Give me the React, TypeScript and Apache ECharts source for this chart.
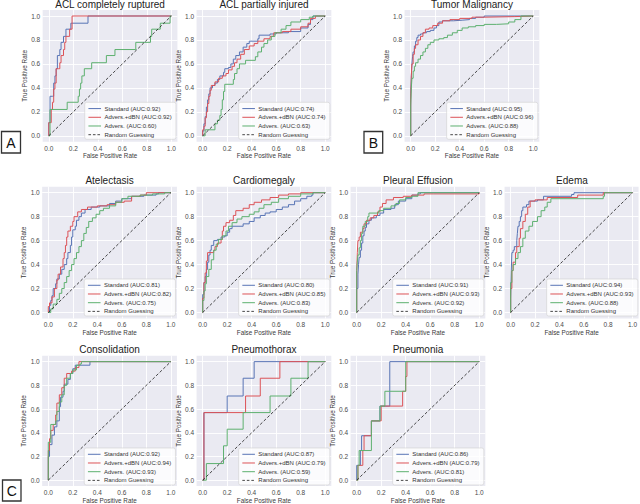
import React, { useEffect, useRef } from "react";
import * as echarts from "echarts";

const FONT = "'Liberation Sans', Arial, Helvetica, sans-serif";
const TICKS = [0, 0.2, 0.4, 0.6, 0.8, 1.0];

const titles = [
  "ACL completely ruptured",
  "ACL partially injured",
  "Tumor Malignancy",
  "Atelectasis",
  "Cardiomegaly",
  "Pleural Effusion",
  "Edema",
  "Consolidation",
  "Pneumothorax",
  "Pneumonia",
];

// AUC values: [Standard, Advers.+dBN, Advers.]
const aucs = [
  ["0.92", "0.92", "0.60"],
  ["0.74", "0.74", "0.63"],
  ["0.95", "0.96", "0.88"],
  ["0.81", "0.82", "0.75"],
  ["0.80", "0.85", "0.83"],
  ["0.91", "0.93", "0.92"],
  ["0.94", "0.93", "0.88"],
  ["0.92", "0.94", "0.93"],
  ["0.87", "0.79", "0.59"],
  ["0.86", "0.79", "0.81"],
];

// ROC step corners [fpr, tpr]
const aclCompStd = [[0,0],[0,0.11],[0.01,0.33],[0.03,0.33],[0.04,0.44],[0.05,0.5],[0.06,0.56],[0.07,0.67],[0.09,0.72],[0.1,0.78],[0.12,0.83],[0.14,0.89],[0.18,0.94],[0.32,1.0],[1,1]];
const aclCompDbn = [[0,0],[0,0.11],[0.02,0.22],[0.03,0.28],[0.04,0.39],[0.05,0.44],[0.06,0.56],[0.08,0.56],[0.09,0.61],[0.1,0.67],[0.12,0.72],[0.13,0.78],[0.14,0.83],[0.17,0.89],[0.19,1.0],[1,1]];
const aclCompAdv = [[0,0],[0.01,0.22],[0.15,0.28],[0.24,0.33],[0.25,0.39],[0.26,0.44],[0.27,0.5],[0.29,0.56],[0.35,0.61],[0.47,0.67],[0.54,0.72],[0.71,0.78],[0.83,0.83],[0.84,0.89],[0.91,0.94],[0.99,1.0],[1,1]];

const aclPartStd = [[0,0],[0,0.04],[0.01,0.1],[0.02,0.16],[0.03,0.24],[0.04,0.3],[0.05,0.35],[0.06,0.4],[0.08,0.42],[0.1,0.44],[0.12,0.47],[0.14,0.5],[0.17,0.53],[0.18,0.56],[0.21,0.57],[0.23,0.6],[0.25,0.64],[0.27,0.67],[0.3,0.7],[0.33,0.74],[0.36,0.77],[0.38,0.79],[0.45,0.81],[0.46,0.84],[0.55,0.85],[0.6,0.86],[0.7,0.87],[0.8,0.9],[0.86,0.93],[0.88,0.97],[0.9,1.0],[1,1]];
const aclPartDbn = [[0,0],[0,0.05],[0.01,0.08],[0.02,0.15],[0.03,0.2],[0.04,0.27],[0.05,0.33],[0.06,0.38],[0.07,0.42],[0.1,0.45],[0.13,0.48],[0.16,0.5],[0.19,0.52],[0.21,0.55],[0.24,0.58],[0.26,0.61],[0.28,0.64],[0.31,0.68],[0.34,0.72],[0.38,0.75],[0.42,0.77],[0.45,0.79],[0.5,0.81],[0.55,0.83],[0.58,0.86],[0.65,0.87],[0.72,0.89],[0.8,0.91],[0.86,0.94],[0.88,0.98],[0.92,1.0],[1,1]];
const aclPartAdv = [[0,0],[0.02,0.05],[0.1,0.1],[0.12,0.13],[0.14,0.17],[0.15,0.22],[0.16,0.3],[0.17,0.37],[0.18,0.43],[0.25,0.47],[0.26,0.52],[0.28,0.56],[0.3,0.6],[0.35,0.63],[0.43,0.66],[0.45,0.7],[0.48,0.74],[0.5,0.77],[0.53,0.8],[0.56,0.83],[0.59,0.86],[0.64,0.89],[0.68,0.92],[0.72,0.95],[0.8,0.97],[0.87,0.99],[0.9,1.0],[1,1]];

const tumorStd = [[0,0],[0,0.35],[0.005,0.5],[0.01,0.6],[0.015,0.66],[0.02,0.7],[0.03,0.75],[0.04,0.79],[0.05,0.82],[0.06,0.84],[0.08,0.85],[0.1,0.86],[0.13,0.87],[0.16,0.88],[0.19,0.9],[0.21,0.92],[0.23,0.95],[0.26,0.96],[0.35,0.965],[0.42,0.97],[0.48,0.98],[0.53,0.99],[0.6,1.0],[1,1]];
const tumorDbn = [[0,0],[0,0.3],[0.005,0.5],[0.01,0.6],[0.02,0.68],[0.03,0.73],[0.04,0.76],[0.06,0.8],[0.08,0.83],[0.1,0.86],[0.12,0.89],[0.15,0.9],[0.18,0.92],[0.22,0.94],[0.26,0.96],[0.32,0.97],[0.4,0.98],[0.5,0.99],[0.6,0.995],[0.85,1.0],[1,1]];
const tumorAdv = [[0,0],[0,0.25],[0.005,0.4],[0.01,0.48],[0.02,0.54],[0.03,0.58],[0.04,0.61],[0.06,0.64],[0.08,0.67],[0.1,0.7],[0.12,0.73],[0.14,0.76],[0.16,0.78],[0.19,0.8],[0.23,0.81],[0.27,0.82],[0.3,0.84],[0.34,0.86],[0.38,0.88],[0.42,0.9],[0.47,0.91],[0.53,0.92],[0.6,0.93],[0.7,0.935],[0.8,0.95],[0.85,0.97],[0.9,1.0],[1,1]];

const atelStd = [[0,0],[0.01,0.06],[0.02,0.1],[0.03,0.14],[0.04,0.2],[0.06,0.24],[0.07,0.28],[0.09,0.32],[0.11,0.36],[0.13,0.4],[0.15,0.45],[0.16,0.5],[0.18,0.56],[0.19,0.63],[0.2,0.69],[0.22,0.72],[0.23,0.77],[0.25,0.8],[0.27,0.83],[0.3,0.86],[0.35,0.88],[0.42,0.89],[0.5,0.91],[0.55,0.93],[0.6,0.95],[0.68,0.97],[0.78,0.98],[0.88,0.99],[0.9,1.0],[1,1]];
const atelDbn = [[0,0],[0,0.05],[0.01,0.08],[0.03,0.13],[0.05,0.2],[0.07,0.27],[0.08,0.32],[0.1,0.38],[0.12,0.45],[0.13,0.5],[0.14,0.56],[0.15,0.63],[0.16,0.68],[0.18,0.72],[0.2,0.76],[0.21,0.8],[0.24,0.84],[0.27,0.86],[0.32,0.88],[0.4,0.89],[0.48,0.9],[0.55,0.92],[0.62,0.93],[0.68,0.97],[0.75,0.98],[0.8,1.0],[1,1]];
const atelAdv = [[0,0],[0.02,0.03],[0.04,0.07],[0.07,0.11],[0.09,0.16],[0.11,0.2],[0.13,0.25],[0.15,0.3],[0.17,0.35],[0.19,0.4],[0.21,0.45],[0.23,0.5],[0.25,0.55],[0.27,0.6],[0.29,0.66],[0.31,0.71],[0.33,0.76],[0.36,0.79],[0.39,0.82],[0.42,0.85],[0.45,0.87],[0.5,0.89],[0.55,0.92],[0.6,0.95],[0.65,0.97],[0.75,0.98],[0.85,0.99],[0.95,1.0],[1,1]];

const cardStd = [[0,0],[0,0.15],[0.01,0.25],[0.02,0.3],[0.03,0.36],[0.04,0.42],[0.05,0.48],[0.06,0.52],[0.07,0.56],[0.09,0.6],[0.12,0.61],[0.15,0.63],[0.18,0.64],[0.2,0.67],[0.22,0.7],[0.24,0.72],[0.33,0.74],[0.38,0.76],[0.42,0.79],[0.47,0.81],[0.51,0.83],[0.55,0.84],[0.6,0.86],[0.65,0.88],[0.7,0.9],[0.75,0.93],[0.8,0.95],[0.85,0.97],[0.89,0.98],[0.9,1.0],[1,1]];
const cardDbn = [[0,0],[0,0.12],[0.01,0.25],[0.02,0.33],[0.03,0.43],[0.04,0.5],[0.09,0.52],[0.1,0.55],[0.12,0.58],[0.15,0.61],[0.16,0.68],[0.17,0.72],[0.19,0.75],[0.22,0.77],[0.25,0.81],[0.27,0.85],[0.33,0.87],[0.38,0.9],[0.42,0.92],[0.48,0.94],[0.55,0.96],[0.62,0.98],[0.7,0.99],[0.8,1.0],[1,1]];
const cardAdv = [[0,0],[0,0.1],[0.01,0.18],[0.02,0.24],[0.03,0.3],[0.05,0.36],[0.07,0.44],[0.09,0.52],[0.11,0.57],[0.13,0.61],[0.16,0.64],[0.19,0.68],[0.21,0.72],[0.24,0.75],[0.28,0.78],[0.32,0.8],[0.38,0.82],[0.42,0.84],[0.46,0.87],[0.5,0.9],[0.56,0.92],[0.62,0.95],[0.7,0.97],[0.8,0.99],[0.9,1.0],[1,1]];

const pleuStd = [[0,0],[0,0.2],[0.01,0.32],[0.015,0.4],[0.02,0.46],[0.03,0.52],[0.04,0.58],[0.05,0.64],[0.06,0.68],[0.07,0.71],[0.08,0.74],[0.1,0.77],[0.12,0.79],[0.16,0.81],[0.19,0.83],[0.22,0.86],[0.28,0.87],[0.31,0.9],[0.34,0.93],[0.4,0.95],[0.45,0.98],[0.5,0.99],[0.52,1.0],[1,1]];
const pleuDbn = [[0,0],[0,0.35],[0.005,0.5],[0.01,0.6],[0.02,0.63],[0.03,0.67],[0.05,0.7],[0.06,0.74],[0.08,0.77],[0.11,0.79],[0.14,0.81],[0.17,0.84],[0.19,0.88],[0.21,0.91],[0.24,0.94],[0.3,0.96],[0.38,0.97],[0.45,0.98],[0.55,0.99],[0.63,0.99],[1,1]];
const pleuAdv = [[0,0],[0,0.35],[0.005,0.42],[0.01,0.48],[0.02,0.54],[0.03,0.6],[0.04,0.66],[0.05,0.72],[0.07,0.76],[0.09,0.8],[0.1,0.83],[0.18,0.85],[0.22,0.87],[0.28,0.89],[0.32,0.91],[0.35,0.94],[0.4,0.96],[0.45,0.97],[0.5,1.0],[1,1]];

const edemaStd = [[0,0],[0,0.12],[0.005,0.35],[0.01,0.5],[0.02,0.52],[0.03,0.55],[0.05,0.6],[0.055,0.66],[0.06,0.72],[0.07,0.76],[0.08,0.8],[0.09,0.85],[0.1,0.88],[0.13,0.9],[0.15,0.93],[0.22,0.94],[0.27,0.97],[0.5,0.985],[0.52,1.0],[1,1]];
const edemaDbn = [[0,0],[0,0.2],[0.01,0.35],[0.02,0.42],[0.04,0.5],[0.05,0.55],[0.07,0.62],[0.08,0.7],[0.1,0.76],[0.12,0.82],[0.14,0.88],[0.16,0.93],[0.2,0.94],[0.3,0.96],[0.55,0.98],[0.76,1.0],[1,1]];
const edemaAdv = [[0,0],[0,0.25],[0.01,0.35],[0.02,0.4],[0.04,0.45],[0.06,0.5],[0.08,0.55],[0.1,0.62],[0.12,0.68],[0.15,0.72],[0.18,0.76],[0.22,0.8],[0.25,0.85],[0.28,0.88],[0.3,0.92],[0.33,0.95],[0.76,0.97],[0.77,1.0],[1,1]];

const consStd = [[0,0],[0,0.2],[0.01,0.3],[0.03,0.38],[0.05,0.45],[0.07,0.5],[0.09,0.62],[0.1,0.7],[0.12,0.75],[0.13,0.81],[0.16,0.85],[0.18,0.9],[0.2,0.94],[0.22,0.97],[0.34,1.0],[1,1]];
const consDbn = [[0,0],[0,0.25],[0.01,0.35],[0.02,0.42],[0.04,0.47],[0.06,0.55],[0.07,0.65],[0.09,0.72],[0.11,0.78],[0.13,0.86],[0.15,0.9],[0.19,0.92],[0.22,0.95],[0.25,1.0],[1,1]];
const consAdv = [[0,0],[0,0.32],[0.02,0.47],[0.06,0.5],[0.07,0.58],[0.09,0.66],[0.11,0.72],[0.13,0.8],[0.15,0.86],[0.18,0.9],[0.2,0.93],[0.23,0.97],[0.26,0.98],[0.27,1.0],[1,1]];

const ptxStd = [[0,0],[0.01,0.57],[0.2,0.71],[0.33,0.86],[0.42,1.0],[1,1]];
const ptxDbn = [[0,0],[0.01,0.57],[0.35,0.71],[0.47,0.86],[0.63,1.0],[1,1]];
const ptxAdv = [[0,0],[0.03,0.14],[0.17,0.29],[0.2,0.43],[0.33,0.57],[0.55,0.71],[0.72,0.86],[0.86,1.0],[1,1]];

const pnaStd = [[0,0],[0,0.125],[0.03,0.25],[0.04,0.375],[0.12,0.5],[0.19,0.625],[0.27,0.75],[0.27,1.0],[1,1]];
const pnaDbn = [[0,0],[0.01,0.125],[0.05,0.25],[0.06,0.375],[0.12,0.5],[0.2,0.625],[0.375,0.75],[0.4,0.875],[0.41,1.0],[1,1]];
const pnaAdv = [[0,0],[0.01,0.125],[0.02,0.25],[0.12,0.5],[0.19,0.625],[0.23,0.75],[0.4,1.0],[1,1]];

const randomLine = [[0,0],[1,1]];

const curves = [
  [aclCompStd, aclCompDbn, aclCompAdv],
  [aclPartStd, aclPartDbn, aclPartAdv],
  [tumorStd, tumorDbn, tumorAdv],
  [atelStd, atelDbn, atelAdv],
  [cardStd, cardDbn, cardAdv],
  [pleuStd, pleuDbn, pleuAdv],
  [edemaStd, edemaDbn, edemaAdv],
  [consStd, consDbn, consAdv],
  [ptxStd, ptxDbn, ptxAdv],
  [pnaStd, pnaDbn, pnaAdv],
];

const panelLabels = ["A", "B", "C"];

// layout: pixel of data x=0 and data y=1
const UX = 122.5;
const UY = 119.8;
const layout = [
  { x0: 48.8, y1: 16 },
  { x0: 202.7, y1: 16 },
  { x0: 410.7, y1: 16 },
  { x0: 48.3, y1: 192.7 },
  { x0: 202.7, y1: 192.7 },
  { x0: 356.7, y1: 192.7 },
  { x0: 510.7, y1: 192.7 },
  { x0: 48.3, y1: 361.7 },
  { x0: 202.7, y1: 361.7 },
  { x0: 356.7, y1: 361.7 },
];
const labelBoxes = [
  { x: 1.5, y: 131.5, w: 19, h: 21.5 },
  { x: 364, y: 131.5, w: 18.7, h: 21.5 },
  { x: 2.5, y: 480, w: 18.5, h: 21 },
];

const COLORS = ["#5874B5", "#DC5257", "#5DB06F"];
const DASHED = "#1a1a1a";

export default function App() {
  const ref = useRef<HTMLDivElement>(null);
  useEffect(() => {
    if (!ref.current) return;
    const chart = echarts.init(ref.current, undefined, { renderer: "svg" });
    const measure = document.createElement("canvas").getContext("2d");
    const legendFont = `6px ${FONT}`;
    if (measure) measure.font = legendFont;
    const grids: any[] = [];
    const xAxes: any[] = [];
    const yAxes: any[] = [];
    const series: any[] = [];
    const graphics: any[] = [];
    const axisLabel = {
      customValues: TICKS,
      formatter: (v: number) => v.toFixed(1),
      fontSize: 6.5,
      fontFamily: FONT,
      color: "#4a4a4a",
    };
    const nameStyle = { fontSize: 6.3, fontFamily: FONT, color: "#3a3a3a" };
    layout.forEach((l, i) => {
      const left = l.x0 - 0.05 * UX;
      const top = l.y1 - 0.05 * UY;
      const width = 1.1 * UX;
      const height = 1.1 * UY;
      grids.push({ left, top, width, height, show: true, backgroundColor: "#EAEAF2", borderWidth: 0 });
      xAxes.push({
        gridIndex: i, type: "value", min: -0.05, max: 1.05,
        axisLine: { show: false }, axisTick: { show: false, customValues: TICKS },
        axisLabel: { ...axisLabel, margin: 3 },
        splitLine: { show: true, lineStyle: { color: "#ffffff", width: 0.9 } },
        name: "False Positive Rate", nameLocation: "middle", nameGap: 10.5, nameTextStyle: nameStyle,
      });
      yAxes.push({
        gridIndex: i, type: "value", min: -0.05, max: 1.05,
        axisLine: { show: false }, axisTick: { show: false, customValues: TICKS },
        axisLabel: { ...axisLabel, margin: 2.5 },
        splitLine: { show: true, lineStyle: { color: "#ffffff", width: 0.9 } },
        name: "True Positive Rate", nameLocation: "middle", nameRotate: 90, nameGap: 14, nameTextStyle: nameStyle,
      });
      const names = [
        `Standard (AUC:${aucs[i][0]})`,
        `Advers.+dBN (AUC:${aucs[i][1]})`,
        `Advers. (AUC:${aucs[i][2]})`,
        "Random Guessing",
      ];
      curves[i].forEach((data, k) => {
        series.push({
          type: "line", name: names[k], xAxisIndex: i, yAxisIndex: i, data,
          step: "end", symbol: "none", silent: true, z: 2,
          lineStyle: { color: COLORS[k], width: 1 }, itemStyle: { color: COLORS[k] },
        });
      });
      series.push({
        type: "line", name: names[3], xAxisIndex: i, yAxisIndex: i, data: randomLine,
        symbol: "none", silent: true, z: 2,
        lineStyle: { color: DASHED, width: 0.8, type: [3, 2] }, itemStyle: { color: DASHED },
      });

      // legend box (drawn manually, matplotlib style)
      let maxW = 0;
      names.forEach((n) => {
        const w = measure ? measure.measureText(n).width : n.length * 3;
        if (w > maxW) maxW = w;
      });
      const boxW = 3.7 + 12.6 + 3.4 + maxW + 4.3;
      const boxH = 37;
      const bx = left + width - 1.5 - boxW;
      const by = top + height - 2.5 - boxH;
      graphics.push({
        type: "rect", z: 50, shape: { x: bx, y: by, width: boxW, height: boxH, r: 2 },
        style: { fill: "rgba(255,255,255,0.82)", stroke: "#d0d0d0", lineWidth: 0.6 },
      });
      names.forEach((n, k) => {
        const cy = by + 6.3 + k * 8.7;
        graphics.push({
          type: "line", z: 51, shape: { x1: bx + 3.7, y1: cy, x2: bx + 16.3, y2: cy },
          style: k < 3
            ? { stroke: COLORS[k], lineWidth: 1 }
            : { stroke: DASHED, lineWidth: 0.8, lineDash: [2.6, 1.9] },
        });
        graphics.push({
          type: "text", z: 51, x: bx + 19.7, y: cy,
          style: { text: n, fill: "#333", font: legendFont, textAlign: "left", textVerticalAlign: "middle" },
        });
      });

      graphics.push({
        type: "text", z: 51, x: l.x0 + UX / 2, y: top - 5.8,
        style: { text: titles[i], fill: "#222", font: `10px ${FONT}`, textAlign: "center", textVerticalAlign: "middle" },
      });
    });
    labelBoxes.forEach((b, j) => {
      graphics.push({
        type: "rect", z: 50, shape: { x: b.x, y: b.y, width: b.w, height: b.h },
        style: { fill: "#fff", stroke: "#333", lineWidth: 1.3 },
      });
      graphics.push({
        type: "text", z: 51, x: b.x + b.w / 2, y: b.y + b.h / 2 + 0.5,
        style: { text: panelLabels[j], fill: "#111", font: `14px ${FONT}`, textAlign: "center", textVerticalAlign: "middle" },
      });
    });
    chart.setOption({
      animation: false,
      grid: grids,
      xAxis: xAxes,
      yAxis: yAxes,
      series,
      graphic: { elements: graphics },
    });
    return () => chart.dispose();
  }, []);
  return (
    <div
      ref={ref}
      style={{ position: "fixed", left: 0, top: 0, width: 640, height: 504, background: "#fff" }}
    />
  );
}
